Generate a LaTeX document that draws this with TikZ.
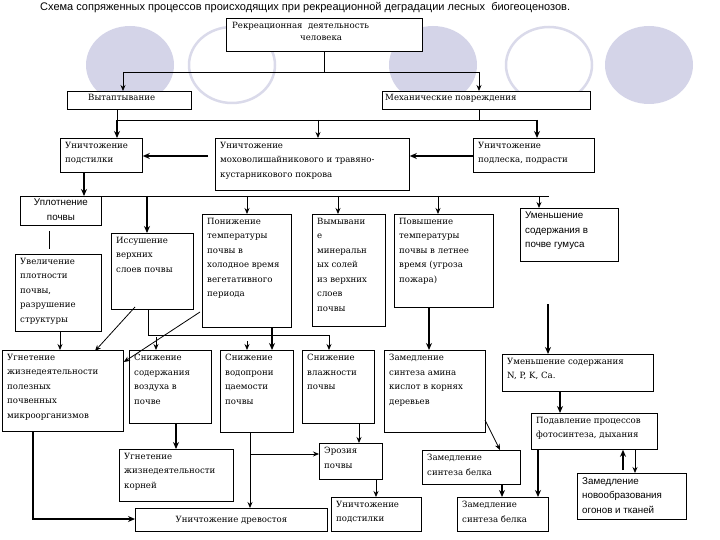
\documentclass[tikz,border=0pt]{standalone}
\usepackage{fontspec}
\setmainfont{DejaVu Serif}
\newfontfamily\sansf{Liberation Sans}
\usetikzlibrary{arrows.meta}
\definecolor{lav}{RGB}{212,212,232}
\definecolor{lavo}{RGB}{218,218,234}
\begin{document}
\begin{tikzpicture}[x=1pt,y=-1pt,
  box/.style={draw,line width=0.8pt,anchor=north west,inner sep=0pt},
  txt/.style={anchor=north west,align=left,inner sep=0pt,font=\fontsize{8.6}{14.5}\selectfont},
  stxt/.style={txt,font=\sansf\fontsize{9.8}{14.5}\selectfont},
  ln/.style={line width=0.8pt},
  ar/.style={line width=0.8pt,-{Stealth[length=6pt,width=5pt]}},
  tar/.style={line width=1.8pt,-{Stealth[length=7pt,width=6pt]}},
  fc/.style={fill=lav,draw=none},
  oc/.style={draw=lavo,line width=2.5pt}]
\useasboundingbox (0,0) rectangle (720,540);
\newcommand{\bx}[7][txt]{%
  \node[box,minimum width=#4-#2,minimum height=#5-#3] (#6) at (#2,#3) {};
  \node[#1] (#6t) at ([xshift=5pt,yshift=-4pt]#6.north west) {#7};}
% circles
\fill[fc] (130,65) ellipse (44 and 39);
\draw[oc] (232,65) ellipse (43 and 38);
\fill[fc] (433,65) ellipse (44 and 39);
\draw[oc] (549,65) ellipse (43 and 38);
\fill[fc] (649,65) ellipse (44 and 39);
\node[anchor=west,inner sep=0pt,font=\sansf\fontsize{11}{12}\selectfont] (title) at (40,8) {Схема сопряженных процессов происходящих при рекреационной деградации лесных \ биогеоценозов.};
% boxes
\node[box,fill=white,minimum width=196,minimum height=33] (top) at (226,18) {};
\node[txt] (topt) at (232,22) {Рекреационная \ деятельность};
\node[txt] (topt2) at (300,36) {человека};
\node[box,fill=white,minimum width=124,minimum height=18] (vyt) at (67,91) {};
\node[txt] (vytt) at (88,94) {Вытаптывание};
\node[box,fill=white,minimum width=208,minimum height=18] (meh) at (382,91) {};
\node[txt] (meht) at (385,94) {Механические повреждения};
\bx{60}{138}{142}{172}{up1}{Уничтожение\\подстилки}
\bx{215}{138}{409}{190}{mid}{Уничтожение\\моховолишайникового и травяно-\\кустарникового покрова}
\bx{473}{138}{594}{172}{pod}{Уничтожение\\подлеска, подрасти}
\node[box,minimum width=81,minimum height=29] (upl) at (20,196) {};
\node[stxt,align=center,anchor=north] (uplt) at ([yshift=-3pt]upl.north) {Уплотнение\\почвы};
\bx{15}{254}{101}{331}{uvel}{Увеличение\\плотности\\почвы,\\разрушение\\структуры}
\bx{111}{233}{193}{309}{iss}{Иссушение\\верхних\\слоев почвы}
\bx{202}{214}{291}{327}{ponizh}{Понижение\\температуры\\почвы в\\холодное время\\вегетативного\\периода}
\bx{312}{214}{385}{326}{vym}{Вымывани\\е\\минеральн\\ых солей\\из верхних\\слоев\\почвы}
\bx{394}{214}{493}{307}{pov}{Повышение\\температуры\\почвы в летнее\\время (угроза\\пожара)}
\bx[stxt]{520}{208}{618}{261}{gum}{Уменьшение\\содержания в\\почве гумуса}
\bx{2}{350}{123}{431}{ugn}{Угнетение\\жизнедеятельности\\полезных\\почвенных\\микроорганизмов}
\bx{129}{350}{211}{423}{sniz1}{Снижение\\содержания\\воздуха в\\почве}
\bx{220}{350}{293}{432}{sniz2}{Снижение\\водопрони\\цаемости\\почвы}
\bx{302}{350}{374}{423}{sniz3}{Снижение\\влажности\\почвы}
\bx{384}{350}{485}{432}{zam1}{Замедление\\синтеза амина\\кислот в корнях\\деревьев}
\bx{502}{354}{653}{391}{npk}{Уменьшение содержания\\N, P, K, Ca.}
\bx{531}{413}{657}{449}{podav}{Подавление процессов\\фотосинтеза, дыхания}
\bx[stxt]{577}{473}{686}{519}{novo}{Замедление\\новообразования\\огонов и тканей}
\bx{422}{450}{520}{484}{bel1}{Замедление\\синтеза белка}
\bx{457}{497}{548}{531}{bel2}{Замедление\\синтеза белка}
\bx{119}{449}{233}{501}{korn}{Угнетение\\жизнедеятельности\\корней}
\node[box,minimum width=192,minimum height=23] (drev) at (135,508) {};
\node[txt,anchor=center] (drevt) at (drev.center) {Уничтожение древостоя};
\bx{319}{443}{382}{479}{eroz}{Эрозия\\почвы}
\bx{331}{497}{421}{531}{up2}{Уничтожение\\подстилки}
% connectors
\coordinate (j1) at (top.south |- 0,72);
\draw[ln] (top.south) -- (j1);
\draw[ln] (123,72) -- (479,72);
\draw[ar] (123,72) -- (vyt.north -| 123,0);
\draw[ar] (479,72) -- (meh.north -| 479,0);
\draw[ln] (vyt.south -| 117,0) -- (117,120);
\draw[ln] (meh.south -| 479,0) -- (479,120);
\draw[ln] (117,120) -- (537,120);
\draw[tar] (117,120) -- (up1.north -| 117,0);
\draw[ar] (318,120) -- (mid.north -| 318,0);
\draw[tar] (537,120) -- (pod.north -| 537,0);
\draw[tar] (208,156) -- (up1.east |- 0,156);
\draw[tar] (pod.west |- 0,156) -- (mid.east |- 0,156);
\draw[tar] (up1.south -| 84,0) -- (upl.north -| 84,0);
\draw[ln] (upl.north east) -- (549,196);
\draw[tar] (147,196) -- (iss.north -| 147,0);
\draw[ar] (247,196) -- (ponizh.north -| 247,0);
\draw[ar] (338,196) -- (vym.north -| 338,0);
\draw[ar] (438,196) -- (pov.north -| 438,0);
\draw[ar] (539,196) -- (gum.north -| 539,0);
\draw[ln] (49,231) -- (49,249);
\draw[ar] (uvel.south -| 60,0) -- (ugn.north -| 60,0);
\draw[ar] (135,307) -- (95,351);
\draw[ar] (200,312) -- (ugn.east |- 0,362);
\draw[ln] (iss.south -| 148,0) -- (148,335) -- (329,335);
\draw[ar] (329,335) -- (sniz3.north -| 329,0);
\draw[ar] (156,337) -- (sniz1.north -| 156,0);
\coordinate (sa) at (247,341);
\draw[ar] (sa) -- (sniz2.north -| 247,0);
\draw[tar] (ponizh.south -| 272,0) -- (sniz2.north -| 272,0);
\draw[tar] (pov.south -| 429,0) -- (zam1.north -| 429,0);
\draw[tar] (548,304) -- (npk.north -| 548,0);
\draw[tar] (npk.south -| 560,0) -- (podav.north -| 560,0);
\draw[tar] (623,470) -- (podav.south -| 623,0);
\draw[ar] (podav.south -| 635,0) -- (novo.north -| 635,0);
\draw[tar] (podav.south -| 538,0) -- (bel2.north -| 538,0);
\draw[ar] (485,420) -- (bel1.north -| 500,0);
\draw[tar] (bel1.south -| 502,0) -- (bel2.north -| 502,0);
\draw[tar] (sniz1.south -| 176,0) -- (korn.north -| 176,0);
\draw[tar] (ugn.south -| 33,0) -- (33,519) -- (drev.west |- 0,519);
\draw[ar] (sniz2.south -| 250,0) -- (drev.north -| 250,0);
\draw[ar] (250,454) -- (eroz.west |- 0,454);
\draw[ar] (sniz3.south -| 359,0) -- (eroz.north -| 359,0);
\draw[ar] (eroz.south -| 376,0) -- (up2.north -| 376,0);
\end{tikzpicture}
\end{document}
